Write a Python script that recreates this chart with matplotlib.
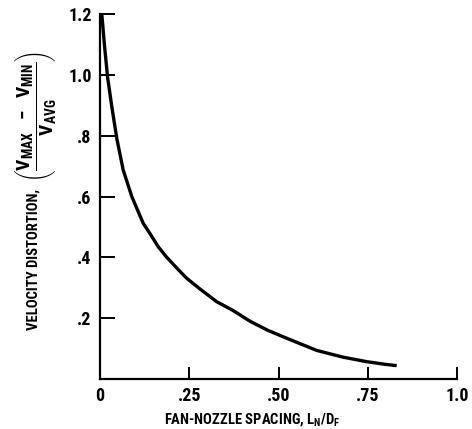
import matplotlib
matplotlib.use("Agg")
import matplotlib.pyplot as plt
from matplotlib import font_manager

# font: narrow sans if one is installed
names = {f.name for f in font_manager.fontManager.ttflist}
fam = 'DejaVu Sans'
for cand in ['Liberation Sans Narrow', 'Roboto Condensed', 'Open Sans Condensed']:
    if cand in names:
        fam = cand
        break
plt.rcParams['font.family'] = [fam, 'DejaVu Sans']
plt.rcParams['font.stretch'] = 'condensed'
plt.rcParams['mathtext.fontset'] = 'custom'
plt.rcParams['mathtext.rm'] = fam + ':bold'
plt.rcParams['mathtext.it'] = fam + ':bold'
plt.rcParams['mathtext.bf'] = fam + ':bold'
plt.rcParams['mathtext.default'] = 'rm'

# curve
spacing = [0.005, 0.012, 0.021, 0.033, 0.047, 0.065, 0.089, 0.121, 0.140, 0.163,
           0.187, 0.219, 0.243, 0.280, 0.327, 0.373, 0.420, 0.470, 0.523, 0.607,
           0.680, 0.747, 0.800, 0.831]
distortion = [1.200, 1.104, 0.994, 0.896, 0.791, 0.687, 0.600, 0.512, 0.478, 0.435,
              0.400, 0.360, 0.331, 0.296, 0.254, 0.225, 0.190, 0.160, 0.134, 0.094,
              0.072, 0.057, 0.048, 0.044]

xticks = [0, 0.25, 0.5, 0.75, 1.0]
xlabels = ['0', '.25', '.50', '.75', '1.0']
yticks = [0.2, 0.4, 0.6, 0.8, 1.0, 1.2]
ylabels = ['.2', '.4', '.6', '.8', '1.0', '1.2']

W, H = 472, 429
fig = plt.figure(figsize=(W/100, H/100), dpi=100)
ax = fig.add_axes([100/W, 50/H, 357/W, 365/H])

ax.plot(spacing, distortion, color='black', lw=2.4, solid_joinstyle='round',
        solid_capstyle='butt')

ax.set_xlim(0, 1.0)
ax.set_ylim(0, 1.2)
for s in ['top', 'right']:
    ax.spines[s].set_visible(False)
for s in ['left', 'bottom']:
    ax.spines[s].set_linewidth(1.6)

ax.set_xticks(xticks)
ax.set_xticklabels(xlabels)
ax.set_yticks(yticks)
ax.set_yticklabels(ylabels)
ax.tick_params(axis='x', direction='in', length=9, width=1.4, pad=6, labelsize=13)
ax.tick_params(axis='y', direction='in', length=11, width=1.4, pad=6, labelsize=13)
for t in ax.get_xticklabels() + ax.get_yticklabels():
    t.set_fontweight('bold')

ax.set_xlabel(r'FAN-NOZZLE SPACING, $L_N/D_F$', fontsize=10.5, fontweight='bold')
ax.xaxis.set_label_coords(0.426, -0.088)

# y label: words plus a larger fraction
fig.text(34/W, 1 - 259/H, 'VELOCITY DISTORTION,', rotation=90, ha='center', va='center',
         fontsize=10.5, fontweight='bold')
fig.text(36/W, 1 - 116/H, r'$\left(\dfrac{V_{MAX}\ \ -\ \ V_{MIN}}{V_{AVG}}\right)$',
         rotation=90, ha='center', va='center', fontsize=14)

fig.savefig('out.png', dpi=100)
